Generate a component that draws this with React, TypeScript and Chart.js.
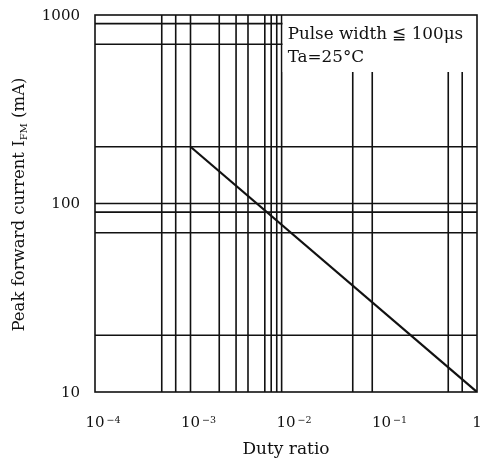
import React, { useEffect, useRef } from "react";
import { Chart, registerables } from "chart.js";

Chart.register(...registerables);

// Derating curve: peak forward current vs. duty ratio
const dutyRatio = [1e-3, 1];
const peakCurrent = [200, 10];

// Axis ranges and decade labels
const xMin = 1e-4;
const xMax = 1;
const yMin = 10;
const yMax = 1000;
const xTickValues = [1e-4, 1e-3, 1e-2, 1e-1, 1];
const xTickBase = ["10", "10", "10", "10", "1"];
const xTickExp = ["\u22124", "\u22123", "\u22122", "\u22121", ""];
const yTickValues = [1000, 100, 10];
const yTickLabels = ["1000", "100", "10"];

// Sheet grid lines
const xGridValues = [5e-4, 7e-4, 1e-3, 2e-3, 3e-3, 4e-3, 6e-3, 7e-3, 8e-3, 9e-3, 5e-2, 8e-2, 0.5, 0.7];
const yGridValues = [900, 700, 200, 100, 90, 70, 20];

// Condition note
const noteLines = ["Pulse width \u2266 100\u03bcs", "Ta=25\u00b0C"];
const noteLeftValue = 9e-3;

const xTitle = "Duty ratio";
const yTitleMain = "Peak forward current I";
const yTitleSub = "FM";
const yTitleTail = " (mA)";

const FONT = "'DejaVu Serif', serif";
const INK = "#111";

const sheetPlugin = {
  id: "sheetPlugin",
  beforeDatasetsDraw(chart: any) {
    const { ctx, chartArea: a, scales } = chart;
    const xs = scales.x;
    const ys = scales.y;
    ctx.save();
    ctx.strokeStyle = INK;
    ctx.lineWidth = 1.6;
    ctx.beginPath();
    xGridValues.forEach((v) => {
      const px = xs.getPixelForValue(v);
      ctx.moveTo(px, a.top);
      ctx.lineTo(px, a.bottom);
    });
    yGridValues.forEach((v) => {
      const py = ys.getPixelForValue(v);
      ctx.moveTo(a.left, py);
      ctx.lineTo(a.right, py);
    });
    ctx.stroke();
    ctx.restore();
  },
  afterDatasetsDraw(chart: any) {
    const { ctx, chartArea: a, scales } = chart;
    const xs = scales.x;
    // note panel over the grid in the upper right corner
    const boxLeft = xs.getPixelForValue(noteLeftValue) + 1;
    const boxBottom = a.top + 57;
    ctx.save();
    ctx.fillStyle = "#fff";
    ctx.fillRect(boxLeft, a.top, a.right - boxLeft, boxBottom - a.top);
    ctx.fillStyle = INK;
    ctx.font = `16.8px ${FONT}`;
    ctx.textAlign = "left";
    ctx.textBaseline = "alphabetic";
    ctx.fillText(noteLines[0], boxLeft + 5, a.top + 24);
    ctx.fillText(noteLines[1], boxLeft + 5, a.top + 47);
    // plot frame
    ctx.strokeStyle = INK;
    ctx.lineWidth = 1.6;
    ctx.strokeRect(a.left, a.top, a.right - a.left, a.bottom - a.top);
    ctx.restore();
  },
  afterDraw(chart: any) {
    const { ctx, chartArea: a, scales } = chart;
    const xs = scales.x;
    const ys = scales.y;
    ctx.save();
    ctx.fillStyle = INK;
    // y tick labels
    ctx.font = `15px ${FONT}`;
    ctx.textAlign = "right";
    ctx.textBaseline = "middle";
    yTickValues.forEach((v, i) => {
      ctx.fillText(yTickLabels[i], a.left - 15, ys.getPixelForValue(v) + 1);
    });
    // x tick labels with exponents
    xTickValues.forEach((v, i) => {
      const px = xs.getPixelForValue(v);
      ctx.font = `15px ${FONT}`;
      ctx.textAlign = "center";
      ctx.textBaseline = "alphabetic";
      const base = xTickBase[i];
      ctx.fillText(base, px, a.bottom + 35);
      if (xTickExp[i]) {
        const w = ctx.measureText(base).width;
        ctx.font = `9.5px ${FONT}`;
        ctx.textAlign = "left";
        ctx.fillText(xTickExp[i], px + w / 2 + 2, a.bottom + 31);
      }
    });
    // x title
    ctx.font = `17px ${FONT}`;
    ctx.textAlign = "center";
    ctx.textBaseline = "alphabetic";
    ctx.fillText(xTitle, (a.left + a.right) / 2, a.bottom + 62);
    // y title, rotated, with subscript
    ctx.translate(24, (a.top + a.bottom) / 2 + 1);
    ctx.rotate(-Math.PI / 2);
    const mainFont = `16.5px ${FONT}`;
    const subFont = `10px ${FONT}`;
    ctx.font = mainFont;
    const w1 = ctx.measureText(yTitleMain).width;
    const w3 = ctx.measureText(yTitleTail).width;
    ctx.font = subFont;
    const w2 = ctx.measureText(yTitleSub).width;
    const total = w1 + w2 + w3;
    let x0 = -total / 2;
    ctx.textAlign = "left";
    ctx.font = mainFont;
    ctx.fillText(yTitleMain, x0, 0);
    x0 += w1;
    ctx.font = subFont;
    ctx.fillText(yTitleSub, x0, 3);
    x0 += w2;
    ctx.font = mainFont;
    ctx.fillText(yTitleTail, x0, 0);
    ctx.restore();
  },
};

export default function App() {
  const canvasRef = useRef<HTMLCanvasElement | null>(null);

  useEffect(() => {
    const canvas = canvasRef.current;
    if (!canvas) return;
    const points = dutyRatio.map((d, i) => ({ x: d, y: peakCurrent[i] }));
    const chart = new Chart(canvas, {
      type: "line",
      data: {
        datasets: [
          {
            data: points,
            borderColor: INK,
            borderWidth: 2.2,
            pointRadius: 0,
            fill: false,
            tension: 0,
          },
        ],
      },
      options: {
        animation: false,
        responsive: false,
        layout: { padding: { top: 15, right: 7, left: 0, bottom: 0 } },
        plugins: {
          legend: { display: false },
          tooltip: { enabled: false },
          title: { display: false },
        },
        scales: {
          x: {
            type: "logarithmic",
            min: xMin,
            max: xMax,
            grid: { display: false, drawTicks: false },
            border: { display: false },
            ticks: { display: false },
            afterFit: (s: any) => {
              s.height = 69;
            },
          },
          y: {
            type: "logarithmic",
            min: yMin,
            max: yMax,
            grid: { display: false, drawTicks: false },
            border: { display: false },
            ticks: { display: false },
            afterFit: (s: any) => {
              s.width = 95;
            },
          },
        },
      },
      plugins: [sheetPlugin],
    });
    return () => chart.destroy();
  }, []);

  return (
    <div style={{ position: "absolute", left: 0, top: 0, width: 484, height: 461, background: "#fff" }}>
      <canvas ref={canvasRef} width={484} height={461} style={{ display: "block" }} />
    </div>
  );
}
